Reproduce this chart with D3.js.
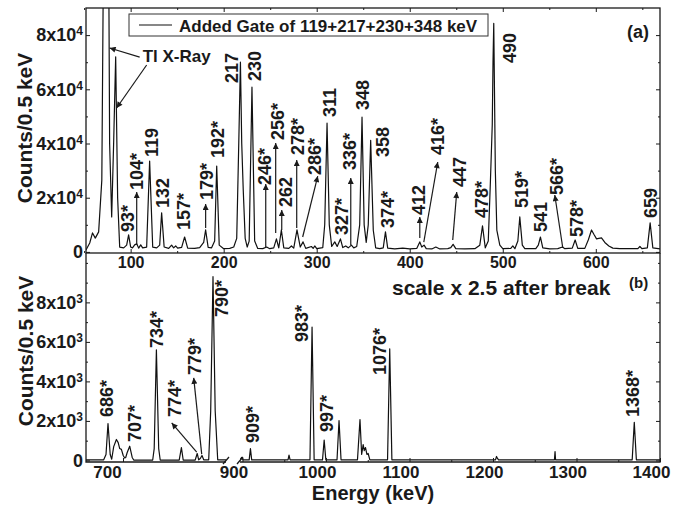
<!DOCTYPE html>
<html>
<head>
<meta charset="utf-8">
<script src="https://cdn.jsdelivr.net/npm/d3@7"></script>
<style>
body { margin: 0; background: #fff; }
text { font-family: Arial, "Liberation Sans", sans-serif; font-weight: bold; fill: #1a1a1a; }
.tick line { stroke: #1a1a1a; }
</style>
</head>
<body>
<svg width="691" height="506"></svg>
<script>
// ---- panel (a): spectrum vertices (keV, counts) ----
var topEnergy = [52,56,59,62,65.6,69,71,73.7,75.8,77.4,79.6,81.7,83.9,86,88.2,92.5,95.7,97.8,100,102,104.3,106.5,108.6,110.8,112.9,117.2,120.4,123.7,128,131.2,133.3,136,140.9,144,146.2,148.4,150.5,154.8,158,161.3,168.8,174.2,178.5,180.6,183.3,187,190.3,192.5,195.2,200,206.5,210.8,214,216.2,218,219.4,221,223.1,225.3,227.4,230.4,233.3,236.6,242,246.2,249.5,253.8,256.7,259.2,262,264.6,270,272.8,275.3,278.8,282.3,285.3,288.2,294.3,296.2,297.9,300,306.5,308.6,311.1,313.5,316.1,319.4,322,325.5,328,331.2,333.9,337.3,339.8,343,346.2,348.7,351,353.2,355.4,358,360.8,363.4,367.7,371.5,373.9,376.3,383.9,392.5,400,407.5,410.8,412.9,415.4,417.7,423.7,428,432.3,440.9,444.1,446.6,449.5,459.2,470,475.3,478.2,481.2,484.4,486.6,488.7,489.5,490.3,492,493.6,496.8,500,508.6,510.8,513,516.2,518.3,521,523.7,535.5,538.2,540.5,543,550.5,559.1,564.2,566.7,574.7,577.8,580.6,588.2,592,595.4,597.9,600.8,603.2,606.1,609.7,614,618.3,625.8,636.6,645.2,647.4,649.5,655.4,658.4,661.3,669];
var topCounts = [700,3300,7000,5100,7400,26500,120000,200000,150000,40000,12900,40000,72000,20000,1800,1500,2500,6300,1800,1500,2600,3000,1400,2600,1500,1800,33500,1800,1500,2500,14400,1800,1300,2500,1500,2200,1400,1700,5500,1400,1300,1600,3500,8100,1700,1500,4000,31700,2500,1200,1300,1800,5000,40000,70000,40000,23000,5000,1800,4000,60800,4000,1300,1200,1800,1200,1500,4800,1500,8100,1500,1300,2200,1400,8100,1800,3700,1300,2000,1300,2200,1200,1600,10000,47500,10000,2000,3700,2000,4800,1600,2200,1500,2500,1500,2000,10000,49700,10000,3500,10000,41200,8000,1500,1200,1500,7400,1400,1100,1400,1100,1300,3700,1800,2500,1200,1100,1800,1100,1200,1600,2800,1200,1100,1200,2500,9600,1500,4000,25000,47000,70000,84300,30000,8000,2500,1200,1300,2200,1200,4000,12900,2500,1200,1200,2500,5500,1500,1100,1200,1800,1200,1400,4400,1300,1300,4500,8100,6500,4800,5000,5200,3500,2200,1400,1200,1200,1200,2000,1200,1500,10700,1500,1100];

// ---- panel (b): spectrum before and after the break ----
var lowEnergy = [663,680.7,683,685,687.2,688.7,690.7,693.4,695.2,696.7,698.4,700.2,701.7,702.7,704.2,706.7,709.2,710.7,729.7,731.2,733.4,735.7,737.2,756.2,758.4,760.2,772.2,774.2,775.7,777.3,779,780.7,785.7,787.7,790,792.2,794.7,803];
var lowCounts = [30,30,300,1870,300,60,700,1060,900,600,560,250,120,150,400,720,150,20,20,600,5600,600,20,20,650,20,20,350,30,100,250,30,30,2500,9300,2500,30,30];
var highEnergy = [897,899,900.5,908,909.5,911,954.5,955.7,957,980.8,983.3,985.8,995.8,997.8,999.8,1013.2,1015.6,1018,1037.7,1040.7,1042.7,1044.5,1045.8,1047.3,1049,1050.5,1052.5,1073.7,1076.3,1078.9,1203,1204.2,1205.4,1206.6,1273.6,1274.3,1274.9,1366.7,1369.2,1371.7,1400];
var highCounts = [30,150,30,30,600,30,30,270,30,30,6750,30,30,1030,30,30,2020,30,30,2070,300,800,500,650,300,350,30,30,5650,30,30,200,100,30,30,450,30,30,1930,30,30];

// ---- peak labels: text, keV and count level where the text starts ----
var topLabels = ["93*","104*","119","132","157*","179*","192*","217","230","246*","256*","262","278*","286*","311","327*","336*","348","358","374*","412","416*","447","478*","490","519*","541","566*","578*","659"];
var topLabelE = [96.8,106.5,122.6,134.4,157,181.7,193.5,208.6,233.3,244.1,258.1,266.7,279.6,297.9,314,326.9,335.5,349.5,371,376.4,409.7,430.1,453.8,477.4,507.5,520.4,540.9,558.1,579.6,659.2];
var topLabelC = [7340,22840,35020,16200,8080,19150,34650,62300,63060,24690,41290,16570,35760,28380,49770,6240,30220,52360,35020,8820,13620,35760,23950,12510,69700,16200,7340,21000,5500,12510];
// arrows: [fromE, fromC, toE, toC]
var topArrows = [[109.7,71900,77.4,75240],[117.2,68960,84.9,53100],[106.5,2550,106.5,22100],[180.6,8820,180.6,17670],[245.2,1440,245.2,25060],[255.9,6970,255.9,40180],[262.4,8080,262.4,15460],[278.5,8820,278.5,33910],[284.9,5500,301.1,28000],[336.6,2550,336.6,27270],[410.8,5130,410.8,12880],[415.1,3650,430.1,33170],[446.2,4390,450.5,22100],[564.5,1440,555.9,21000]];

var lowLabels = ["686*","707*","734*","774*","779*","790*"];
var lowLabelE = [683.7,711.7,733.7,751.7,771.7,798.7];
var lowLabelC = [2200,930,5690,2200,4320,7260];
var lowArrows = [[773.7,425,748.7,1900],[778.7,320,770.7,4180]];
var highLabels = ["909*","983*","997*","1076*","1368*"];
var highLabelE = [912.6,971.3,1001.2,1064.7,1367.7];
var highLabelC = [880,5990,1440,4320,2200];

// ---- tick values ----
var topYTicks = [0,20000,40000,60000,80000];
var topYMinor = [10000,30000,50000,70000];
var topXTicks = [100,200,300,400,500,600];
var topXMinor = [50,150,250,350,450,550,650];
var lowYTicks = [0,2000,4000,6000,8000];
var lowYMinor = [1000,3000,5000,7000,9000,10000];
var lowXTicks = [700];
var highXTicks = [900,1000,1100,1200,1300,1400];
var highXMinor = [950,1050,1150,1250,1350];

var svg = d3.select("svg");
var L = 86, R = 660, topT = 8, mid = 253, botB = 462, breakL = 226, breakR = 240;

var xTop = d3.scaleLinear().domain([52, 669]).range([L, R]),
    yTop = d3.scaleLinear().domain([-400, 90000]).range([mid, topT]);
var xLow = d3.scaleLinear().domain([663, 803]).range([L, breakL]),
    xHigh = d3.scaleLinear().domain([897, 1400]).range([breakR, R]),
    yBot = d3.scaleLinear().domain([-80, 10500]).range([botB, mid]);

var defs = svg.append("defs");
defs.append("marker").attr("id", "head")
    .attr("viewBox", "0 0 10 10").attr("refX", 10).attr("refY", 5)
    .attr("markerWidth", 7).attr("markerHeight", 6).attr("orient", "auto")
    .attr("markerUnits", "userSpaceOnUse")
  .append("path").attr("d", "M0,0L10,5L0,10z").attr("fill", "#1a1a1a");
function clip(id, x, y, w, h) {
  defs.append("clipPath").attr("id", id).append("rect")
      .attr("x", x).attr("y", y).attr("width", w).attr("height", h);
}
clip("cTop", L, topT, R - L, mid - topT);
clip("cLow", L, mid, breakL - L, botB - mid);
clip("cHigh", breakR, mid, R - breakR, botB - mid);

function spectrum(xs, ys, E, C, clipId) {
  var line = d3.line()
      .x(function(d) { return xs(d[0]); })
      .y(function(d) { return ys(d[1]); });
  svg.append("path")
      .datum(d3.zip(E, C))
      .attr("clip-path", "url(#" + clipId + ")")
      .attr("d", line)
      .style("fill", "none")
      .style("stroke", "#111")
      .style("stroke-width", "1.2px")
      .style("stroke-linejoin", "round");
}
spectrum(xTop, yTop, topEnergy, topCounts, "cTop");
spectrum(xLow, yBot, lowEnergy, lowCounts, "cLow");
spectrum(xHigh, yBot, highEnergy, highCounts, "cHigh");

function labels(xs, ys, txt, E, C) {
  svg.append("g").selectAll("text")
    .data(txt)
    .enter().append("text")
      .attr("transform", function(d, i) { return "translate(" + xs(E[i]) + "," + ys(C[i]) + ") rotate(-90)"; })
      .attr("dy", "0.35em")
      .style("font-size", "18px")
      .text(function(d) { return d; });
}
labels(xTop, yTop, topLabels, topLabelE, topLabelC);
labels(xLow, yBot, lowLabels, lowLabelE, lowLabelC);
labels(xHigh, yBot, highLabels, highLabelE, highLabelC);

function arrows(xs, ys, list) {
  svg.append("g").selectAll("line")
    .data(list)
    .enter().append("line")
      .attr("x1", function(d) { return xs(d[0]); })
      .attr("y1", function(d) { return ys(d[1]); })
      .attr("x2", function(d) { return xs(d[2]); })
      .attr("y2", function(d) { return ys(d[3]); })
      .attr("marker-end", "url(#head)")
      .style("stroke", "#1a1a1a")
      .style("stroke-width", "1.2px");
}
arrows(xTop, yTop, topArrows);
arrows(xLow, yBot, lowArrows);

svg.append("text")
    .attr("x", xTop(112.9)).attr("y", yTop(70070))
    .style("font-size", "17px")
    .text("Tl X-Ray");

// ---- axes ----
function sciLabels(g, exp) {
  g.selectAll(".tick text").each(function(d) {
    var t = d3.select(this).text(null);
    if (d === 0) { t.text("0"); return; }
    t.append("tspan").text((d / Math.pow(10, exp)) + "x10");
    t.append("tspan").attr("dy", "-0.5em").style("font-size", "12px").text(exp);
  });
}
function cleanup(g) { g.select(".domain").remove(); return g; }

function yAxes(ys, major, minor, exp) {
  var gl = svg.append("g").attr("transform", "translate(" + L + ",0)")
      .call(d3.axisLeft(ys).tickValues(major).tickSizeInner(-4).tickSizeOuter(0).tickPadding(3));
  cleanup(gl).selectAll("text").style("font-size", "18px");
  sciLabels(gl, exp);
  cleanup(svg.append("g").attr("transform", "translate(" + L + ",0)")
      .call(d3.axisLeft(ys).tickValues(minor).tickSizeInner(-2).tickSizeOuter(0).tickFormat("")));
  cleanup(svg.append("g").attr("transform", "translate(" + R + ",0)")
      .call(d3.axisRight(ys).tickValues(major).tickSizeInner(-4).tickSizeOuter(0).tickFormat("")));
  cleanup(svg.append("g").attr("transform", "translate(" + R + ",0)")
      .call(d3.axisRight(ys).tickValues(minor).tickSizeInner(-2).tickSizeOuter(0).tickFormat("")));
}
yAxes(yTop, topYTicks, topYMinor, 4);
yAxes(yBot, lowYTicks, lowYMinor, 3);

// panel (a) energy axis, labels sit inside panel (b)
var gx = svg.append("g").attr("transform", "translate(0," + mid + ")")
    .call(d3.axisBottom(xTop).tickValues(topXTicks).tickFormat(d3.format("d"))
      .tickSizeInner(-4).tickSizeOuter(0).tickPadding(4));
cleanup(gx).selectAll("text").style("font-size", "16px");
cleanup(svg.append("g").attr("transform", "translate(0," + mid + ")")
    .call(d3.axisBottom(xTop).tickValues(topXMinor).tickSizeInner(-2).tickSizeOuter(0).tickFormat("")));
cleanup(svg.append("g").attr("transform", "translate(0," + topT + ")")
    .call(d3.axisTop(xTop).tickValues(topXTicks).tickSizeInner(-4).tickSizeOuter(0).tickFormat("")));
cleanup(svg.append("g").attr("transform", "translate(0," + topT + ")")
    .call(d3.axisTop(xTop).tickValues(topXMinor).tickSizeInner(-2).tickSizeOuter(0).tickFormat("")));

// panel (b) broken energy axis
var gLow = svg.append("g").attr("transform", "translate(0," + botB + ")")
    .call(d3.axisBottom(xLow).tickValues(lowXTicks).tickFormat(d3.format("d"))
      .tickSizeInner(-4).tickSizeOuter(0).tickPadding(4));
cleanup(gLow).selectAll("text").attr("dx", "-16px").style("font-size", "17px");
var gHigh = svg.append("g").attr("transform", "translate(0," + botB + ")")
    .call(d3.axisBottom(xHigh).tickValues(highXTicks).tickFormat(d3.format("d"))
      .tickSizeInner(-4).tickSizeOuter(0).tickPadding(4));
cleanup(gHigh).selectAll("text").attr("dx", "-9px").style("font-size", "17px");
cleanup(svg.append("g").attr("transform", "translate(0," + botB + ")")
    .call(d3.axisBottom(xHigh).tickValues(highXMinor).tickSizeInner(-2).tickSizeOuter(0).tickFormat("")));

// frames
var frame = svg.append("g").style("fill", "none").style("stroke", "#1a1a1a").style("stroke-width", "1.3px");
frame.append("rect").attr("x", L).attr("y", topT).attr("width", R - L).attr("height", mid - topT);
frame.append("path").attr("d", "M" + L + "," + mid + "V" + botB + "H" + breakL);
frame.append("path").attr("d", "M" + breakR + "," + botB + "H" + R + "V" + mid);
frame.append("path").attr("d", "M" + (breakL - 3) + "," + (botB + 2) + "l6,-7M" + (breakR - 3) + "," + (botB + 2) + "l6,-7");

// legend
svg.append("rect").attr("x", 129).attr("y", 14).attr("width", 359).attr("height", 22)
    .style("fill", "#fff").style("stroke", "#333").style("stroke-width", "1px");
svg.append("line").attr("x1", 139).attr("x2", 172).attr("y1", 25).attr("y2", 25)
    .style("stroke", "#111").style("stroke-width", "1.1px");
svg.append("text").attr("x", 179).attr("y", 31.5).style("font-size", "17px")
    .text("Added Gate of 119+217+230+348 keV");

svg.append("text").attr("x", 627).attr("y", 38).style("font-size", "18px").text("(a)");
svg.append("text").attr("x", 392).attr("y", 295).style("font-size", "21px").text("scale x 2.5 after break");
svg.append("text").attr("x", 629).attr("y", 288).style("font-size", "15px").text("(b)");

svg.append("text").attr("x", 373).attr("y", 500).style("text-anchor", "middle")
    .style("font-size", "20px").text("Energy (keV)");
svg.append("text").attr("transform", "translate(25,128) rotate(-90)").attr("dy", "0.35em")
    .style("text-anchor", "middle").style("font-size", "21px").text("Counts/0.5 keV");
svg.append("text").attr("transform", "translate(26,351) rotate(-90)").attr("dy", "0.35em")
    .style("text-anchor", "middle").style("font-size", "21px").text("Counts/0.5 keV");
</script>
</body>
</html>
